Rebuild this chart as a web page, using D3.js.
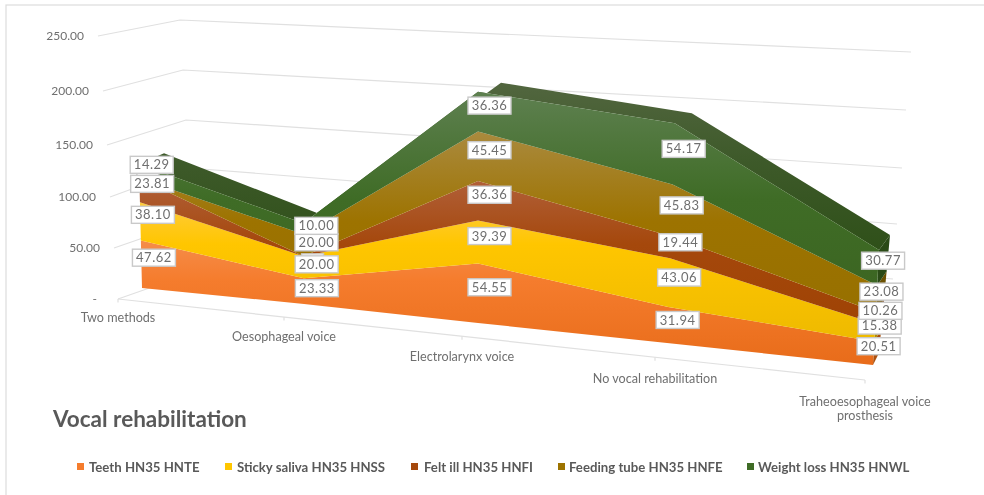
<!DOCTYPE html>
<html>
<head>
<meta charset="utf-8">
<script src="https://cdnjs.cloudflare.com/ajax/libs/d3/7.8.5/d3.min.js"></script>
<style>
html, body { margin: 0; padding: 0; background: #fff; }
svg { display: block; font-family: Lato, "Open Sans", sans-serif; filter: blur(0.35px); }
</style>
</head>
<body>
<svg id="chart" width="984" height="495"></svg>
<script>
const categories = ["Two methods", "Oesophageal voice", "Electrolarynx voice", "No vocal rehabilitation", "Traheoesophageal voice|prosthesis"];
const teeth = [47.62, 23.33, 54.55, 31.94, 20.51];
const sticky = [38.10, 20.00, 39.39, 43.06, 15.38];
const feltIll = [23.81, 0, 36.36, 19.44, 10.26];
const feedingTube = [0, 20.00, 45.45, 45.83, 23.08];
const weightLoss = [14.29, 10.00, 36.36, 54.17, 30.77];
const seriesNames = ["Teeth HN35 HNTE", "Sticky saliva HN35 HNSS", "Felt ill HN35 HNFI", "Feeding tube HN35 HNFE", "Weight loss HN35 HNWL"];
const valueTicks = [0, 50, 100, 150, 200, 250];

const svg = d3.select("#chart");
const idx = d3.range(categories.length);

// the picture is a perspective view, so every scale is piecewise
const frontX = d3.scaleLinear().domain(idx).range([142, 304, 478, 667, 873]);
const frontY = d3.scaleLinear().domain(idx).range([288, 304, 323, 343, 365]);
const unitH = d3.scaleLinear().domain(idx).range([1.0, 1.1, 1.09, 1.13, 1.15]);
const lean = d3.scaleLinear().domain(idx).range([-0.024, -0.01, 0, 0.04, 0.06]);
const depthX = d3.scaleLinear().domain(idx).range([25, 17, 23, 17, 11]);
const depthY = d3.scaleLinear().domain(idx).range([-11, -9, -9, -10, -15]);
const labelDx = d3.scaleLinear().domain(idx).range([12.5, 13, 11.5, 10, 5]);
const labelDy = d3.scaleLinear().domain(idx).range([-6.5, -3, -6, -5, -7]);
const catDrop = d3.scaleLinear().domain(idx).range([23, 24, 25, 26, 26]);

const px = (i, v) => frontX(i) + lean(i) * v;
const py = (i, v) => frontY(i) - unitH(i) * v;

// walls and floor
const wallX = d3.scaleLinear().domain(valueTicks).range([118, 114, 110, 107, 103, 98]);
const wallY = d3.scaleLinear().domain(valueTicks).range([299, 248, 197, 145, 91, 36]);
const bendX = d3.scaleLinear().domain(valueTicks).range([195, 192, 189, 186, 183, 180]);
const bendY = d3.scaleLinear().domain(valueTicks).range([272, 221, 168, 120, 70, 20]);
const endX = d3.scaleLinear().domain(valueTicks).range([888, 893, 897, 902, 906, 911]);
const endY = d3.scaleLinear().domain(valueTicks).range([333, 279, 224, 168, 110, 52]);
const floorX = d3.scaleLinear().domain(idx).range([118, 284, 462, 655, 865]);
const floorY = d3.scaleLinear().domain([118, 865]).range([299, 380]);

const gridColor = "#e0e0e0";
const textColor = "#6f6f6f";
const gridLine = d3.line();

svg.append("rect").attr("x", 6).attr("y", 5).attr("width", 990).attr("height", 500)
  .attr("fill", "none").attr("stroke", "#dcdcdc").attr("stroke-width", 1.2);

svg.append("g").selectAll("path").data(valueTicks).join("path")
  .attr("d", v => gridLine([[wallX(v), wallY(v)], [bendX(v), bendY(v)], [endX(v), endY(v)]]))
  .attr("fill", "none").attr("stroke", gridColor).attr("stroke-width", 1.2);

svg.append("path")
  .attr("d", gridLine([[floorX(0), floorY(floorX(0))], [floorX(4), floorY(floorX(4))]]))
  .attr("fill", "none").attr("stroke", gridColor).attr("stroke-width", 1.2);
svg.append("g").selectAll("line").data(idx).join("line")
  .attr("x1", floorX).attr("x2", floorX)
  .attr("y1", i => floorY(floorX(i))).attr("y2", i => floorY(floorX(i)) + 3.5)
  .attr("stroke", gridColor).attr("stroke-width", 1.2);

svg.append("g").selectAll("text").data(valueTicks).join("text")
  .attr("x", v => v === 0 ? 97 : wallX(v) - 14)
  .attr("y", wallY)
  .attr("dy", "0.35em")
  .attr("text-anchor", "end")
  .attr("font-size", 12)
  .attr("fill", textColor)
  .text(v => v === 0 ? "-" : d3.format(".2f")(v));

// category labels, one extra line where the name wraps
const catLabels = svg.append("g").selectAll("text").data(idx).join("text")
  .attr("text-anchor", "middle")
  .attr("font-size", 12.6)
  .attr("fill", textColor)
  .attr("transform", i => `translate(${floorX(i)},${floorY(floorX(i)) + catDrop(i)})`);
catLabels.selectAll("tspan").data(i => categories[i].split("|")).join("tspan")
  .attr("x", 0).attr("dy", (d, j) => j ? 14 : 0).text(d => d);

// layers
const rows = idx.map(i => ({ i, a: teeth[i], b: sticky[i], c: feltIll[i], d: feedingTube[i], e: weightLoss[i] }));
const stacked = d3.stack().keys(["a", "b", "c", "d", "e"])(rows);

const palette = [
  { top: "#f58d4a", mid: "#f57c2d", low: "#e86c1a", side: "#a9500f", stop: "32%" },
  { top: "#ffcb3c", mid: "#ffc600", low: "#eeba00", side: "#b58c00", stop: "30%" },
  { top: "#b1603a", mid: "#a5480c", low: "#9f4304", side: "#6f3005", stop: "45%" },
  { top: "#aa8a3e", mid: "#9d7300", low: "#977000", side: "#6a5000", stop: "50%" },
  { top: "#5e8050", mid: "#3f6c26", low: "#3c6622", side: "#2a4a16", stop: "55%" }
];

const defs = svg.append("defs");
palette.forEach((c, k) => {
  const g = defs.append("linearGradient").attr("id", "layer" + k)
    .attr("x1", 0).attr("x2", 0).attr("y1", 0).attr("y2", 1);
  g.append("stop").attr("offset", "0%").attr("stop-color", c.top);
  g.append("stop").attr("offset", c.stop).attr("stop-color", c.mid);
  g.append("stop").attr("offset", "100%").attr("stop-color", c.low);
});
const roofGrad = defs.append("linearGradient").attr("id", "roof")
  .attr("x1", 0).attr("x2", 0).attr("y1", 0).attr("y2", 1);
roofGrad.append("stop").attr("offset", "0%").attr("stop-color", "#52663f");
roofGrad.append("stop").attr("offset", "45%").attr("stop-color", "#3e5a2a");
roofGrad.append("stop").attr("offset", "100%").attr("stop-color", "#2f5019");

// top face of the highest layer
const topLayer = stacked[stacked.length - 1];
const roof = d3.area()
  .x0(d => px(d.data.i, d[1]))
  .y0(d => py(d.data.i, d[1]))
  .x1(d => px(d.data.i, d[1]) + depthX(d.data.i))
  .y1(d => py(d.data.i, d[1]) + depthY(d.data.i));
svg.append("path").datum(topLayer).attr("d", roof).attr("fill", "url(#roof)");

// right hand side face, only the last category shows it
const last = idx.length - 1;
svg.append("g").selectAll("path").data(stacked).join("path")
  .attr("d", s => {
    const d = s[last];
    const off0 = d[0] / 100, off1 = d[1] / 100;
    const bx = v => 6 + 5 * v, by = v => -12 - 3 * v;
    return gridLine([
      [px(last, d[0]), py(last, d[0])],
      [px(last, d[1]), py(last, d[1])],
      [px(last, d[1]) + bx(off1), py(last, d[1]) + by(off1)],
      [px(last, d[0]) + bx(off0), py(last, d[0]) + by(off0)]
    ]) + "Z";
  })
  .attr("fill", (s, k) => palette[k].side);

const front = d3.area()
  .x0(d => px(d.data.i, d[0]))
  .y0(d => py(d.data.i, d[0]))
  .x1(d => px(d.data.i, d[1]))
  .y1(d => py(d.data.i, d[1]));
svg.append("g").selectAll("path").data(stacked).join("path")
  .attr("d", front)
  .attr("fill", (s, k) => `url(#layer${k})`);

// data labels sit half way into the depth of the layer
const labels = [];
stacked.forEach((s, k) => s.forEach(d => {
  const i = d.data.i, v = d[1] - d[0], m = (d[0] + d[1]) / 2;
  labels.push({
    k, v,
    x: px(i, m) + labelDx(i) + (v === 0 ? -4 : 0),
    y: py(i, m) + labelDy(i) + (v === 0 ? 9 : 0)
  });
}));
labels.sort((p, q) => (p.v === 0 ? 0 : 1) - (q.v === 0 ? 0 : 1));

const labelG = svg.append("g").selectAll("g").data(labels).join("g")
  .attr("transform", d => `translate(${d.x},${d.y})`);
labelG.append("rect")
  .attr("x", d => d.v === 0 ? -11 : -21.5)
  .attr("width", d => d.v === 0 ? 22 : 43)
  .attr("y", -8.5).attr("height", 17)
  .attr("fill", "#fff").attr("stroke", "#c9c9c9").attr("stroke-width", 1.4);
labelG.append("text")
  .attr("text-anchor", "middle").attr("dy", "0.35em")
  .attr("x", d => d.v === 0 ? 4 : 0)
  .attr("y", d => d.v === 0 ? -5 : 0)
  .attr("font-size", 13).attr("letter-spacing", 0.5).attr("fill", textColor)
  .text(d => d.v === 0 ? "-" : d3.format(".2f")(d.v));

// title and legend
svg.append("text").attr("x", 53).attr("y", 427)
  .attr("font-size", 22.5).attr("font-weight", 700).attr("fill", "#595959")
  .text("Vocal rehabilitation");

const legendBox = [77, 225, 411, 558, 747];
const legendText = [89, 237, 424, 569, 758];
const legend = svg.append("g").selectAll("g").data(seriesNames).join("g");
legend.append("rect")
  .attr("x", (d, k) => legendBox[k]).attr("y", 463)
  .attr("width", 7).attr("height", 7)
  .attr("fill", (d, k) => palette[k].mid);
legend.append("text")
  .attr("x", (d, k) => legendText[k]).attr("y", 467)
  .attr("dy", "0.35em").attr("font-size", 13.2).attr("font-weight", 700)
  .attr("fill", "#595959").text(d => d);
</script>
</body>
</html>
